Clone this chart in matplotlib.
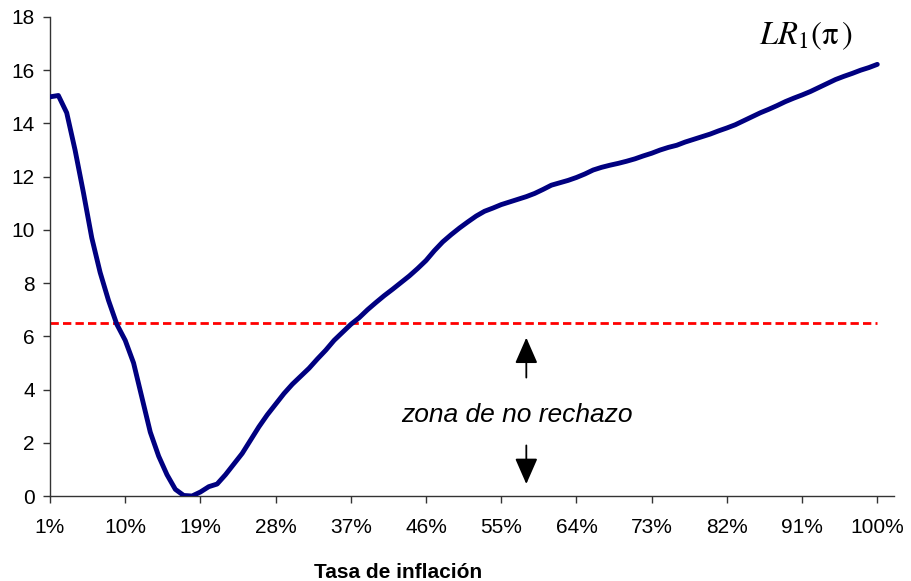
import matplotlib.pyplot as plt

# Tasa de inflación (%) y estadístico LR1
inflacion = list(range(1, 101))
lr1 = [
    15.00, 15.05, 14.40, 13.00, 11.40, 9.70, 8.40, 7.35, 6.45, 5.85,
    5.00, 3.70, 2.40, 1.50, 0.80, 0.25, 0.02, 0.00, 0.15, 0.35,
    0.45, 0.80, 1.20, 1.60, 2.10, 2.60, 3.05, 3.45, 3.85, 4.20,
    4.50, 4.80, 5.15, 5.48, 5.85, 6.15, 6.45, 6.70, 7.00, 7.27,
    7.53, 7.77, 8.02, 8.27, 8.55, 8.85, 9.22, 9.55, 9.82, 10.07,
    10.30, 10.52, 10.70, 10.82, 10.95, 11.05, 11.15, 11.25, 11.37, 11.52,
    11.68, 11.77, 11.86, 11.97, 12.10, 12.25, 12.35, 12.43, 12.50, 12.58,
    12.67, 12.78, 12.88, 13.00, 13.10, 13.18, 13.30, 13.40, 13.50, 13.60,
    13.72, 13.83, 13.95, 14.10, 14.25, 14.40, 14.53, 14.67, 14.82, 14.95,
    15.07, 15.20, 15.35, 15.50, 15.65, 15.77, 15.88, 16.00, 16.10, 16.22,
]
valor_critico = 6.5
xticks = list(range(1, 101, 9))
xticklabels = [f'{v}%' for v in xticks]
yticks = list(range(0, 19, 2))

plt.rcParams['font.family'] = ['Liberation Sans', 'DejaVu Sans']
plt.rcParams['mathtext.fontset'] = 'stix'

fig = plt.figure(figsize=(9.12, 5.81), dpi=100)
ax = fig.add_axes([50 / 912, 85 / 581, 844 / 912, 479 / 581])

ax.plot(inflacion, lr1, color='#000080', lw=3.5, solid_joinstyle='round',
        solid_capstyle='round', zorder=3)
ax.plot([inflacion[0], inflacion[-1]], [valor_critico, valor_critico],
        color='#ff0000', lw=2.0, dashes=(3, 1.5), zorder=2)

ax.set_xlim(1, 102)
ax.set_ylim(0, 18)
ax.set_xticks(xticks)
ax.set_xticklabels(xticklabels)
ax.set_yticks(yticks)

for s in ['top', 'right']:
    ax.spines[s].set_visible(False)
for s in ['left', 'bottom']:
    ax.spines[s].set_color('#333333')
    ax.spines[s].set_linewidth(1.0)

ax.tick_params(axis='x', length=5, width=1, color='#333333', pad=11, labelsize=15)
ax.tick_params(axis='y', length=5, width=1, color='#333333', pad=6, labelsize=15)

fig.text(398 / 912, 1 - 572 / 581, 'Tasa de inflación', ha='center', va='center',
         fontsize=15, fontweight='bold')

ax.text(56.9, 3.05, 'zona de no rechazo', ha='center', va='center',
        fontsize=19, style='italic')

# flechas de la zona de no rechazo
ax.annotate('', xy=(58, 5.95), xytext=(58, 4.45),
            arrowprops=dict(arrowstyle='-|>,head_length=0.8,head_width=0.35',
                            color='black', lw=1.3, shrinkA=0, shrinkB=0,
                            mutation_scale=20))
ax.annotate('', xy=(58, 0.45), xytext=(58, 1.9),
            arrowprops=dict(arrowstyle='-|>,head_length=0.8,head_width=0.35',
                            color='black', lw=1.3, shrinkA=0, shrinkB=0,
                            mutation_scale=20))

ax.text(91.4, 17.3, r'$LR_{1}(\mathrm{\pi}\,)$', ha='center', va='center',
        fontsize=23.5)

fig.savefig('out.png', dpi=100)
